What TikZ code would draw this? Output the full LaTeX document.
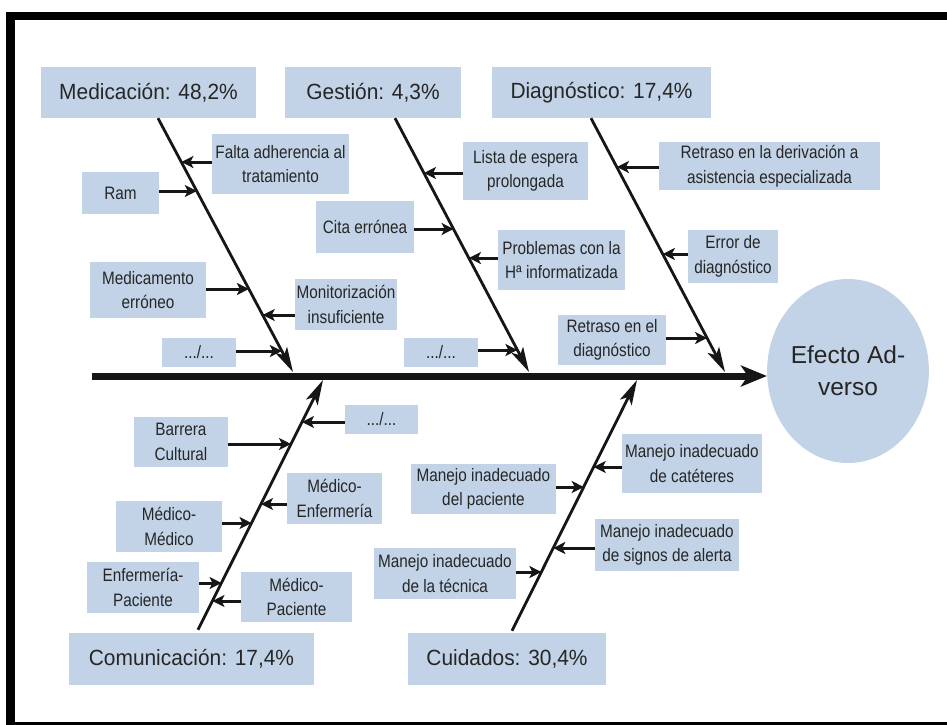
\documentclass[tikz,border=0pt]{standalone}
\usepackage{fontspec}
\usepackage{tikz}
\usetikzlibrary{arrows.meta,shapes.geometric}
\usepackage{xcolor}
\setmainfont{Liberation Sans}
\newfontfamily\labelfont[FakeStretch=0.85]{Liberation Sans}
\newfontfamily\titlefont[FakeStretch=0.95]{Liberation Sans}
\definecolor{boxblue}{RGB}{194,211,231}
\definecolor{txtgray}{RGB}{38,38,38}
\definecolor{linegray}{RGB}{22,22,22}

\begin{document}
\begin{tikzpicture}[x=1pt,y=-1pt,
  cause/.style={fill=boxblue,text=txtgray,inner sep=0pt,align=center,font=\labelfont\fontsize{18}{24.5}\selectfont},
  group/.style={fill=boxblue,text=txtgray,inner sep=0pt,minimum height=51pt,font=\titlefont\fontsize{22}{26}\selectfont},
  twig/.style={draw=linegray,line width=3pt,-{Stealth[length=12pt,width=12pt,inset=3pt]}},
  bone/.style={draw=linegray,line width=2.8pt,-{Stealth[length=25pt,width=13pt,inset=6pt]}},
  spine/.style={draw=linegray,line width=7pt,-{Stealth[length=26pt,width=21pt,inset=7pt]}}]
\useasboundingbox (0,0) rectangle (947,724);
% frame
\draw[line width=8.5pt,line join=miter] (950,16) -- (10.5,16) -- (10.5,726.5) -- (950,726.5);

% effect and spine
\node[ellipse,fill=boxblue,text=txtgray,minimum width=156pt,minimum height=184pt,inner sep=0pt,align=center,font=\fontsize{24.5}{32}\selectfont] (efecto) at (848,371) {Efecto Ad-\\verso};
\coordinate (tail) at (92,376);
\draw[spine] (tail) -- (tail -| efecto.west);

% groups
\node[group,minimum width=215pt] (med) at (148.5,92.5) {Medicación: 48,2\%};
\node[group,minimum width=176pt] (ges) at (373,92.5) {Gestión: 4,3\%};
\node[group,minimum width=219pt] (dia) at (601.5,92.5) {Diagnóstico: 17,4\%};
\node[group,minimum width=245pt,minimum height=52pt] (com) at (191.5,659) {Comunicación: 17,4\%};
\node[group,minimum width=198pt,minimum height=52pt] (cui) at (507,659) {Cuidados: 30,4\%};

% bones
\coordinate (medtip) at (293,372);
\coordinate (gestip) at (529,372);
\coordinate (diatip) at (725,372);
\coordinate (comtip) at (323,380);
\coordinate (cuitip) at (637,380);
\draw[bone] ([xshift=9.5pt]med.south) -- (medtip);
\draw[bone] ([xshift=22pt]ges.south) -- (gestip);
\draw[bone] ([xshift=-10.5pt]dia.south) -- (diatip);
\draw[bone] ([xshift=6.5pt,yshift=3pt]com.north) -- (comtip);
\draw[bone] ([xshift=5pt,yshift=2pt]cui.north) -- (cuitip);

% Medicacion
\node[cause,minimum width=137pt,minimum height=60pt] (falta) at (280.5,164) {Falta adherencia al\\tratamiento};
\node[cause,minimum width=77pt,minimum height=42pt] (ram) at (120.5,193) {Ram};
\node[cause,minimum width=116pt,minimum height=56pt] (medic) at (148,290) {Medicamento\\erróneo};
\node[cause,minimum width=102pt,minimum height=51pt] (monit) at (346,304.5) {Monitorización\\insuficiente};
\node[cause,minimum width=74pt,minimum height=29pt] (dotsa) at (199,352.5) {.../...};
\coordinate (falta-t) at (181.4,162);
\coordinate (ram-t) at (196.8,191);
\coordinate (medic-t) at (248.9,289);
\coordinate (monit-t) at (262.7,315);
\coordinate (dotsa-t) at (281.8,351);
\draw[twig] (falta.west |- falta-t) -- (falta-t);
\draw[twig] (ram.east |- ram-t) -- (ram-t);
\draw[twig] (medic.east |- medic-t) -- (medic-t);
\draw[twig] (monit.west |- monit-t) -- (monit-t);
\draw[twig] (dotsa.east |- dotsa-t) -- (dotsa-t);

% Gestion
\node[cause,minimum width=98pt,minimum height=52pt] (cita) at (365,227) {Cita errónea};
\node[cause,minimum width=125pt,minimum height=58pt] (lista) at (525.5,171) {Lista de espera\\prolongada};
\node[cause,minimum width=74pt,minimum height=29pt] (dotsb) at (441,352.5) {.../...};
\node[cause,minimum width=127pt,minimum height=60pt] (probl) at (561.5,260) {Problemas con la\\Hª informatizada};
\coordinate (lista-t) at (424,173);
\coordinate (cita-t) at (453.6,229);
\coordinate (probl-t) at (468.9,258);
\coordinate (dotsb-t) at (517.4,350);
\draw[twig] (lista.west |- lista-t) -- (lista-t);
\draw[twig] (cita.east |- cita-t) -- (cita-t);
\draw[twig] (probl.west |- probl-t) -- (probl-t);
\draw[twig] (dotsb.east |- dotsb-t) -- (dotsb-t);

% Diagnostico
\node[cause,minimum width=221pt,minimum height=48pt] (retder) at (769.5,166) {Retraso en la derivación a\\asistencia especializada};
\node[cause,minimum width=90pt,minimum height=53pt] (error) at (733,256.5) {Error de\\diagnóstico};
\node[cause,minimum width=108pt,minimum height=50pt] (retdia) at (612,340) {Retraso en el\\diagnóstico};
\coordinate (retder-t) at (616.9,167);
\coordinate (error-t) at (662.8,254);
\coordinate (retdia-t) at (707.1,338);
\draw[twig] (retder.west |- retder-t) -- (retder-t);
\draw[twig] (error.west |- error-t) -- (error-t);
\draw[twig] (retdia.east |- retdia-t) -- (retdia-t);

% Comunicacion
\node[cause,minimum width=73pt,minimum height=29pt] (dotsc) at (381.5,419.5) {.../...};
\node[cause,minimum width=94pt,minimum height=50pt] (barr) at (181,442) {Barrera\\Cultural};
\node[cause,minimum width=95pt,minimum height=51pt] (mede) at (334.5,498.5) {Médico-\\Enfermería};
\node[cause,minimum width=106pt,minimum height=51pt] (medm) at (169,526.5) {Médico-\\Médico};
\node[cause,minimum width=112pt,minimum height=51pt] (enfp) at (143,587.5) {Enfermería-\\Paciente};
\node[cause,minimum width=111pt,minimum height=50pt] (medp) at (296.5,597) {Médico-\\Paciente};
\coordinate (dotsc-t) at (302,422);
\coordinate (barr-t) at (291,444);
\coordinate (mede-t) at (261,504);
\coordinate (medm-t) at (251.5,523);
\coordinate (enfp-t) at (221.5,583);
\coordinate (medp-t) at (212.5,601);
\draw[twig] (dotsc.west |- dotsc-t) -- (dotsc-t);
\draw[twig] (barr.east |- barr-t) -- (barr-t);
\draw[twig] (mede.west |- mede-t) -- (mede-t);
\draw[twig] (medm.east |- medm-t) -- (medm-t);
\draw[twig] (enfp.east |- enfp-t) -- (enfp-t);
\draw[twig] (medp.west |- medp-t) -- (medp-t);

% Cuidados
\node[cause,minimum width=145pt,minimum height=50pt] (mpac) at (483.5,489) {Manejo inadecuado\\del paciente};
\node[cause,minimum width=142pt,minimum height=51pt] (mtec) at (445,573.5) {Manejo inadecuado\\de la técnica};
\node[cause,minimum width=140pt,minimum height=59pt] (mcat) at (692,463.5) {Manejo inadecuado\\de catéteres};
\node[cause,minimum width=144pt,minimum height=52pt] (msig) at (667,545) {Manejo inadecuado\\de signos de alerta};
\coordinate (mcat-t) at (593.7,467);
\coordinate (mpac-t) at (583.7,487);
\coordinate (msig-t) at (553.3,548);
\coordinate (mtec-t) at (541.4,572);
\draw[twig] (mcat.west |- mcat-t) -- (mcat-t);
\draw[twig] (mpac.east |- mpac-t) -- (mpac-t);
\draw[twig] (msig.west |- msig-t) -- (msig-t);
\draw[twig] (mtec.east |- mtec-t) -- (mtec-t);
\end{tikzpicture}
\end{document}
